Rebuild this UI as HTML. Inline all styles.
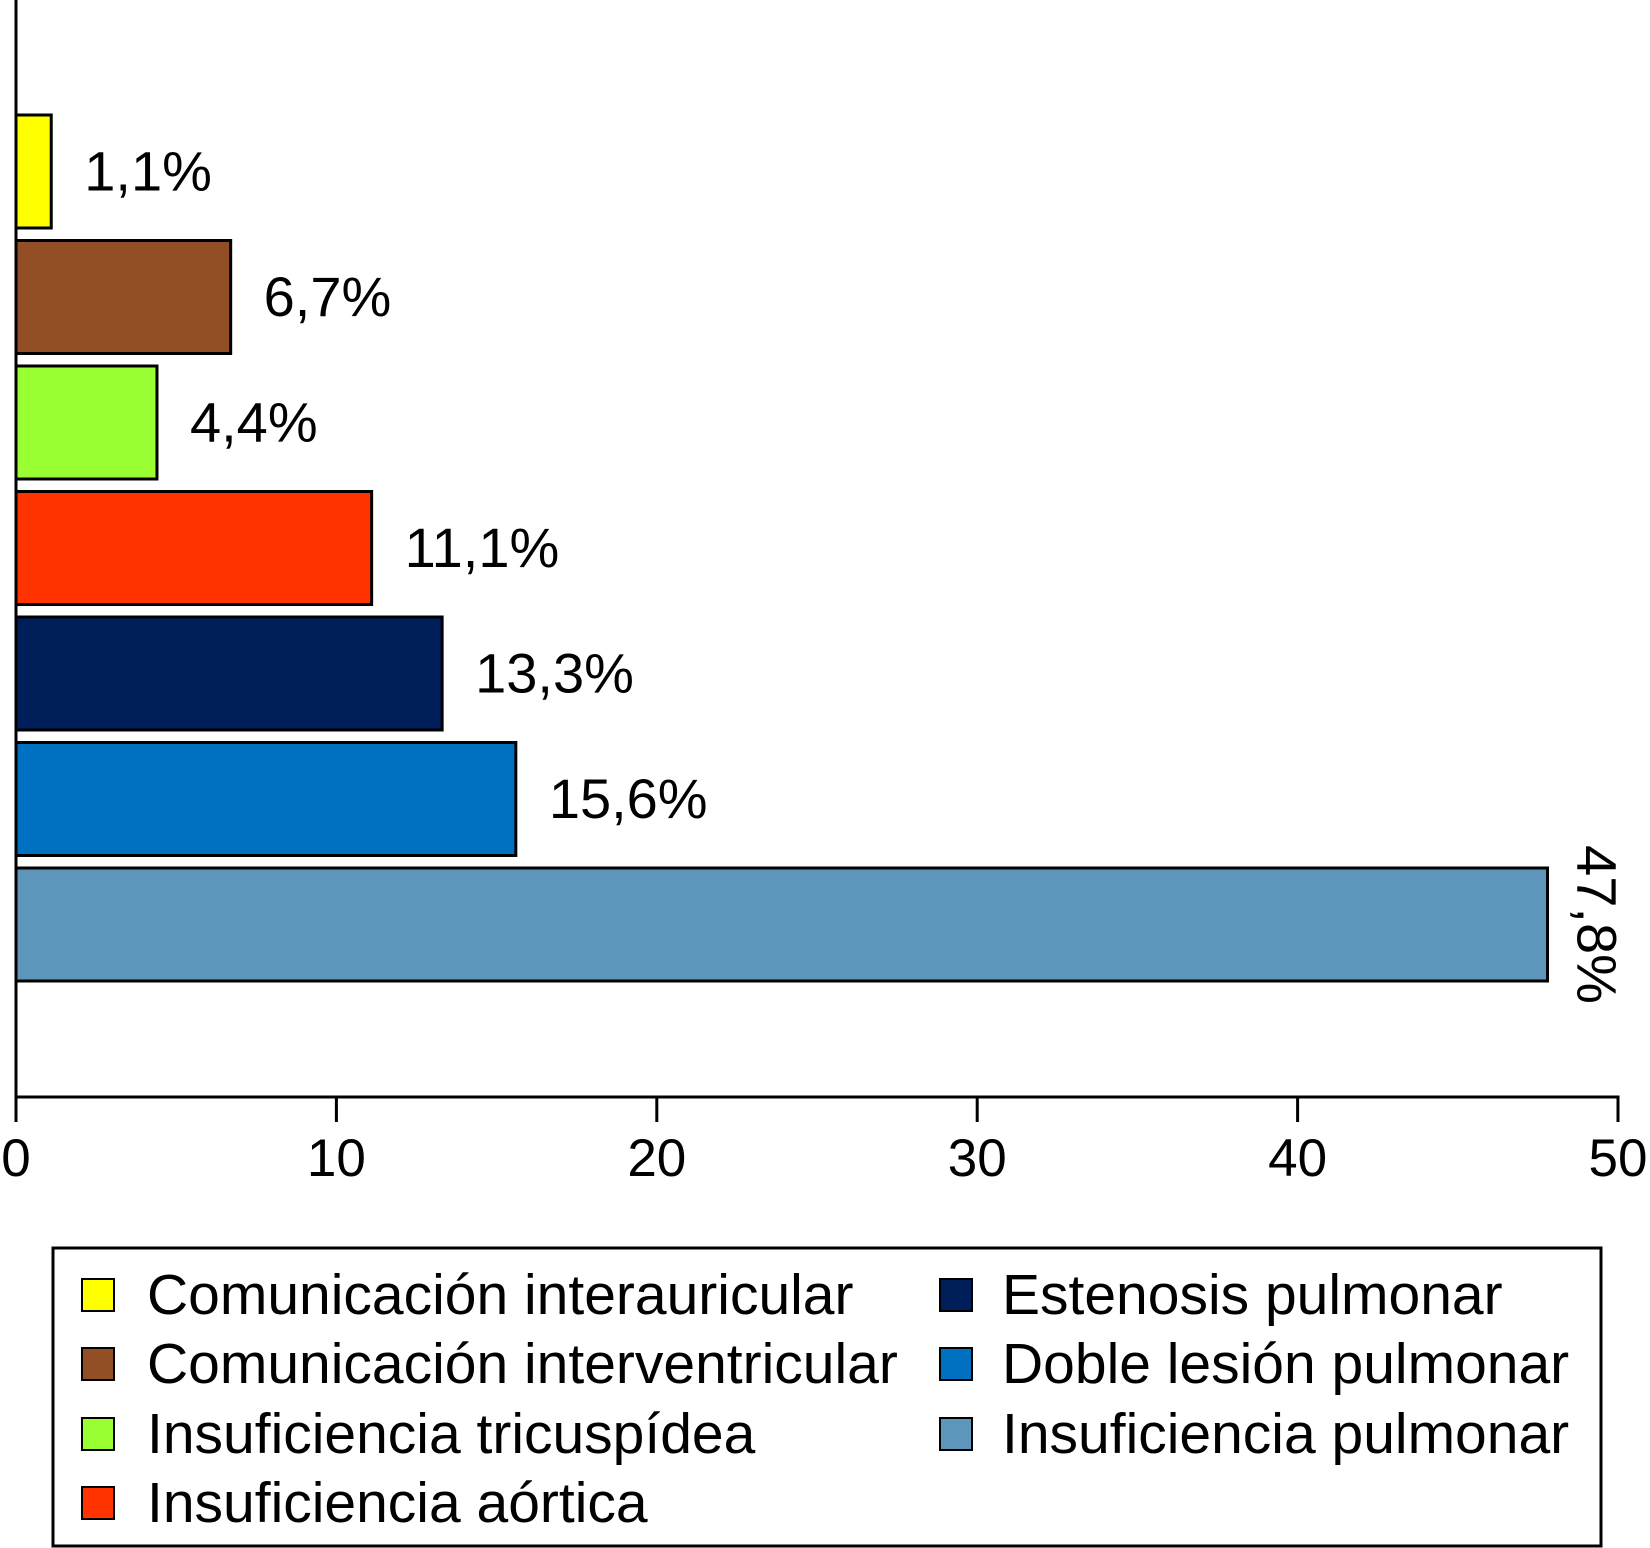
<!DOCTYPE html>
<html><head><meta charset="utf-8"><style>
html,body{margin:0;padding:0;background:#fff}
svg{display:block;font-family:"Liberation Sans",Arial,sans-serif}
</style></head><body>
<svg id="chart" width="1650" height="1548" viewBox="0 0 1650 1548" xmlns="http://www.w3.org/2000/svg"></svg>
<script>
const categories = ["Comunicación interauricular","Comunicación interventricular","Insuficiencia tricuspídea","Insuficiencia aórtica","Estenosis pulmonar","Doble lesión pulmonar","Insuficiencia pulmonar"];
const values = [1.1, 6.7, 4.4, 11.1, 13.3, 15.6, 47.8];
const valueLabels = ["1,1%","6,7%","4,4%","11,1%","13,3%","15,6%","47,8%"];
const colors = ["#ffff00","#924f26","#99ff33","#ff3300","#001e5a","#0070c0","#5e95bb"];
const ticks = [0,10,20,30,40,50];

const NS="http://www.w3.org/2000/svg";
const svg=document.getElementById('chart');
const x0=16, x1=1618, xMax=50, axisY=1097;
const xs=v=>x0+(v/xMax)*(x1-x0);
const barTop0=115, pitch=125.5, barH=113;
const ys=i=>barTop0+i*pitch;
function mk(t,a){const e=document.createElementNS(NS,t);for(const k in a)e.setAttribute(k,a[k]);svg.appendChild(e);return e;}

values.forEach((v,i)=>{
  const r=mk('rect',{x:x0,y:ys(i),width:xs(v)-x0,height:barH,fill:colors[i],stroke:'#000','stroke-width':3});
  
  
  let t;
  if(i===values.length-1){
    const cx=xs(v)+50, cy=ys(i)+barH/2+20;
    t=mk('text',{x:cx,y:cy,'font-size':56,'text-anchor':'middle',transform:`rotate(90 ${cx} ${cy-20})`});
  } else {
    t=mk('text',{x:xs(v)+33,y:ys(i)+barH/2+19,'font-size':56});
  }
  t.textContent=valueLabels[i];
  
  
});

const ya=mk('line',{x1:x0,y1:0,x2:x0,y2:axisY+1,stroke:'#000','stroke-width':3});


const xa=mk('line',{x1:x0-1.5,y1:axisY,x2:x1+1.5,y2:axisY,stroke:'#000','stroke-width':3});


ticks.forEach(tv=>{
  const l=mk('line',{x1:xs(tv),y1:axisY,x2:xs(tv),y2:axisY+25,stroke:'#000','stroke-width':3});
  
  
  const t=mk('text',{x:xs(tv),y:1176,'font-size':53,'text-anchor':'middle'});
  t.textContent=tv;
  
  
});

const lg=mk('rect',{x:53,y:1248,width:1548,height:298,fill:'#fff',stroke:'#000','stroke-width':3});


const rowsY=[1314,1383,1453,1522];
categories.forEach((c,i)=>{
  const col=i<4?0:1, row=i<4?i:i-4;
  const sx=col?940:82, tx=col?1002:147;
  const s=mk('rect',{x:sx,y:rowsY[row]-35,width:32,height:32,fill:colors[i],stroke:'#000','stroke-width':2});
  
  
  const t=mk('text',{x:tx,y:rowsY[row],'font-size':57});
  t.textContent=c;
  
  
});
</script>
</body></html>
